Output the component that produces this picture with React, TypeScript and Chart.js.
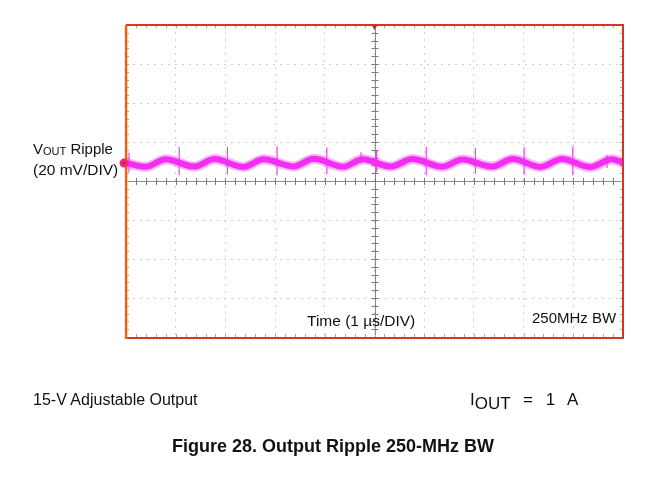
import React, { useEffect, useRef } from "react";
import { Chart, registerables } from "chart.js";

Chart.register(...registerables);

// Time axis: 10 divisions of 1 µs; voltage axis: 8 divisions of 20 mV (centre = 0 mV)
const timeMin = 0;
const timeMax = 10;
const voltMin = -80;
const voltMax = 80;
const timeStep = 1;
const voltStep = 20;

// Ripple waveform key points (µs, mV relative to centre line)
const rippleTimes = [0.0, 0.4, 0.8, 1.37, 1.78, 2.36, 2.77, 3.37, 3.78, 4.37, 4.76, 5.33, 5.76, 6.36, 6.77, 7.36, 7.78, 8.34, 8.77, 9.34, 9.77, 10.0];
const rippleValues = [9.2, 7.3, 11.2, 7.4, 11.3, 7.2, 11.1, 7.5, 11.4, 7.3, 11.2, 7.4, 11.3, 7.3, 11.0, 7.4, 11.3, 7.2, 11.3, 7.1, 11.2, 9.3];

// Switching spikes (µs, top mV, bottom mV)
const spikeTimes = [0.06, 1.07, 2.04, 3.04, 4.04, 4.73, 5.04, 6.04, 7.03, 8.01, 8.99, 9.68];
const spikeTops = [14.5, 17.6, 17.4, 17.8, 17.2, 14.8, 15.9, 17.6, 17.0, 17.3, 17.8, 13.3];
const spikeBottoms = [4.5, 3.0, 3.3, 2.8, 3.4, 9.0, 4.6, 3.0, 3.6, 3.2, 3.0, 6.7];

// Channel ground marker level (mV)
const groundLevel = 9.2;

const TRACE = "#f01ef0";

const scopeDecor = {
  id: "scopeDecor",
  beforeDatasetsDraw(chart: any) {
    const { ctx, chartArea: a, scales } = chart;
    const x = scales.x;
    const y = scales.y;
    const cx = x.getPixelForValue((timeMin + timeMax) / 2);
    const cy = y.getPixelForValue(0);
    ctx.save();
    ctx.strokeStyle = "#8a8a8a";
    ctx.lineWidth = 1;
    ctx.beginPath();
    ctx.moveTo(a.left, Math.round(cy) + 0.5);
    ctx.lineTo(a.right, Math.round(cy) + 0.5);
    ctx.moveTo(Math.round(cx) + 0.5, a.top);
    ctx.lineTo(Math.round(cx) + 0.5, a.bottom);
    ctx.stroke();
    // minor ticks on centre cross
    ctx.strokeStyle = "#7a7a7a";
    ctx.beginPath();
    const nx = (timeMax - timeMin) * 5;
    for (let i = 0; i <= nx; i++) {
      const px = Math.round(x.getPixelForValue(timeMin + (i * timeStep) / 5)) + 0.5;
      ctx.moveTo(px, cy - 3);
      ctx.lineTo(px, cy + 4);
    }
    const ny = ((voltMax - voltMin) / voltStep) * 5;
    for (let i = 0; i <= ny; i++) {
      const py = Math.round(y.getPixelForValue(voltMin + (i * voltStep) / 5)) + 0.5;
      ctx.moveTo(cx - 3, py);
      ctx.lineTo(cx + 4, py);
    }
    ctx.stroke();
    // minor ticks on border (fainter)
    ctx.strokeStyle = "#a8a8a8";
    ctx.beginPath();
    for (let i = 0; i <= nx; i++) {
      const px = Math.round(x.getPixelForValue(timeMin + (i * timeStep) / 5)) + 0.5;
      ctx.moveTo(px, a.top);
      ctx.lineTo(px, a.top + 3);
      ctx.moveTo(px, a.bottom);
      ctx.lineTo(px, a.bottom - 3);
    }
    for (let i = 0; i <= ny; i++) {
      const py = Math.round(y.getPixelForValue(voltMin + (i * voltStep) / 5)) + 0.5;
      ctx.moveTo(a.left, py);
      ctx.lineTo(a.left + 3, py);
      ctx.moveTo(a.right, py);
      ctx.lineTo(a.right - 3, py);
    }
    ctx.stroke();
    ctx.restore();
  },
  afterDatasetsDraw(chart: any) {
    const { ctx, chartArea: a, scales } = chart;
    const cx = scales.x.getPixelForValue((timeMin + timeMax) / 2);
    ctx.save();
    // frame
    ctx.lineWidth = 2;
    ctx.strokeStyle = "#d9341f";
    ctx.beginPath();
    ctx.moveTo(a.left, a.top);
    ctx.lineTo(a.right, a.top);
    ctx.lineTo(a.right, a.bottom);
    ctx.stroke();
    ctx.strokeStyle = "#c8401c";
    ctx.beginPath();
    ctx.moveTo(a.left, a.bottom + 1);
    ctx.lineTo(a.right + 1, a.bottom + 1);
    ctx.stroke();
    ctx.strokeStyle = "#e8661e";
    ctx.lineWidth = 2.5;
    ctx.beginPath();
    ctx.moveTo(a.left, a.top);
    ctx.lineTo(a.left, a.bottom + 2);
    ctx.stroke();
    // trigger marker
    ctx.fillStyle = "#e0201a";
    ctx.beginPath();
    ctx.moveTo(cx - 3, a.top);
    ctx.lineTo(cx + 3, a.top);
    ctx.lineTo(cx, a.top + 5);
    ctx.closePath();
    ctx.fill();
    // ground marker
    const gy = scales.y.getPixelForValue(groundLevel);
    ctx.fillStyle = "#f0287a";
    ctx.beginPath();
    ctx.arc(a.left - 2, gy, 4.5, 0, Math.PI * 2);
    ctx.fill();
    ctx.fillStyle = "#c01870";
    ctx.beginPath();
    ctx.arc(a.left - 2, gy, 1.5, 0, Math.PI * 2);
    ctx.fill();
    ctx.restore();
  },
};

export default function App() {
  const ref = useRef<HTMLCanvasElement | null>(null);

  useEffect(() => {
    if (!ref.current) return;
    const ripple = rippleTimes.map((t, i) => ({ x: t, y: rippleValues[i] }));
    const spikes: { x: number; y: number | null }[] = [];
    spikeTimes.forEach((t, i) => {
      spikes.push({ x: t, y: spikeTops[i] });
      spikes.push({ x: t, y: spikeBottoms[i] });
      spikes.push({ x: t, y: null });
    });
    const chart = new Chart(ref.current, {
      type: "line",
      data: {
        datasets: [
          {
            data: ripple,
            borderColor: "rgba(245,70,245,0.4)",
            borderWidth: 10,
            pointRadius: 0,
            cubicInterpolationMode: "monotone",
          },
          {
            data: ripple,
            borderColor: TRACE,
            borderWidth: 6,
            pointRadius: 0,
            cubicInterpolationMode: "monotone",
          },
          {
            data: spikes,
            borderColor: "rgba(240,30,240,0.85)",
            borderWidth: 1.2,
            pointRadius: 0,
            spanGaps: false,
          },
        ],
      },
      options: {
        animation: false,
        responsive: false,
        devicePixelRatio: 1,
        layout: { padding: { left: 126, top: 25, right: 48, bottom: 160 } },
        plugins: { legend: { display: false }, tooltip: { enabled: false } },
        scales: {
          x: {
            type: "linear",
            min: timeMin,
            max: timeMax,
            ticks: { display: false, stepSize: timeStep },
            grid: { color: "#cfcfcf", lineWidth: 1, drawTicks: false },
            border: { display: false, dash: [2, 5] },
          },
          y: {
            type: "linear",
            min: voltMin,
            max: voltMax,
            ticks: { display: false, stepSize: voltStep },
            grid: { color: "#cfcfcf", lineWidth: 1, drawTicks: false },
            border: { display: false, dash: [2, 5] },
          },
        },
      },
      plugins: [scopeDecor],
    });
    return () => chart.destroy();
  }, []);

  const font = "'Liberation Sans', Arial, Helvetica, sans-serif";
  const label = (left: number, top: number, size: number, extra: React.CSSProperties = {}) =>
    ({ position: "absolute", left, top, fontSize: size, lineHeight: 1, fontFamily: font, color: "#111", whiteSpace: "nowrap", ...extra } as React.CSSProperties);

  return (
    <div style={{ position: "absolute", left: 0, top: 0, width: 671, height: 497, background: "#fff" }}>
      <canvas ref={ref} width={671} height={497} style={{ position: "absolute", left: 0, top: 0 }} />
      <div style={label(33, 141, 15)}>
        V<span style={{ fontSize: 11, position: "relative", top: 1 }}>OUT</span> Ripple
      </div>
      <div style={label(33, 162, 15.5)}>(20 mV/DIV)</div>
      <div style={label(307, 313, 15.5)}>Time (1 µs/DIV)</div>
      <div style={label(532, 310, 15)}>250MHz BW</div>
      <div style={label(33, 392, 16)}>15-V Adjustable Output</div>
      <div style={label(470, 391, 17, { wordSpacing: 8 })}>
        I<span style={{ fontSize: 17, position: "relative", top: 4 }}>OUT</span> = 1 A
      </div>
      <div style={label(172, 437, 18, { fontWeight: "bold" })}>Figure 28. Output Ripple 250-MHz BW</div>
    </div>
  );
}
